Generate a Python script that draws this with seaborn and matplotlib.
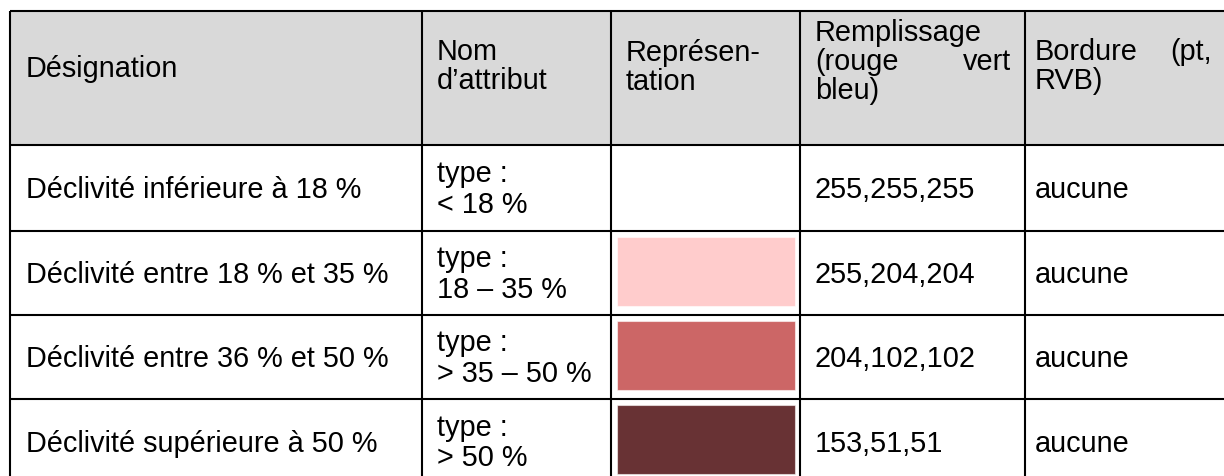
import matplotlib
matplotlib.use("Agg")
import matplotlib.pyplot as plt
import seaborn as sns

# ---- data ----
headers = ["Désignation", "Nom\nd’attribut", "Représen-\ntation",
           "Remplissage\n(rouge vert\nbleu)", "Bordure (pt,\nRVB)"]
designations = ["Déclivité inférieure à 18 %", "Déclivité entre 18 % et 35 %",
                "Déclivité entre 36 % et 50 %", "Déclivité supérieure à 50 %"]
attributes = ["type :\n< 18 %", "type :\n18 – 35 %", "type :\n> 35 – 50 %", "type :\n> 50 %"]
fill_values = ["255,255,255", "255,204,204", "204,102,102", "153,51,51"]
swatch_colors = ["#FFFFFF", "#FFCCCC", "#CC6666", "#683234"]
borders = ["aucune", "aucune", "aucune", "aucune"]

# ---- layout (pixels) ----
W, H = 1224, 476
col_x = [9.5, 422, 611, 800, 1025]          # vertical lines
row_y = [11, 145, 231, 315, 399, 484]       # horizontal lines
text_pad = 15
header_bg = "#D9D9D9"
lw = 1.5
fs = 20.8
LINE_BODY = 31
LINE_HEAD = 29

sns.set_theme(style="white")
plt.rcParams['font.family'] = ['Liberation Sans', 'DejaVu Sans']

fig = plt.figure(figsize=(W / 100, H / 100), dpi=100)
ax = fig.add_axes([0, 0, 1, 1])
ax.set_xlim(0, W)
ax.set_ylim(H, 0)
ax.axis("off")

# header background
ax.fill_between([col_x[0], W], row_y[0], row_y[1], color=header_bg, lw=0, zorder=0)

# swatches (representation column)
sw_left = col_x[2] + 6
sw_w = 178
sw_tops = [row_y[i + 1] + 6 for i in range(len(designations))]
ax.bar([sw_left] * len(designations), [69] * len(designations), width=sw_w,
       bottom=sw_tops, align="edge", color=swatch_colors,
       edgecolor=(1, 1, 1, 0.55), linewidth=0.8, zorder=1)

# grid lines
for y in row_y[:-1]:
    ax.plot([col_x[0], W], [y, y], color="black", lw=lw, solid_capstyle="butt", zorder=3)
for x in col_x:
    ax.plot([x, x], [row_y[0], H + 5], color="black", lw=lw, solid_capstyle="butt", zorder=3)

def put(x, base, s, **kw):
    ax.text(x, base, s, fontsize=fs, color="black", va="baseline", ha=kw.pop("ha", "left"), zorder=4, **kw)

# header texts
put(col_x[0] + text_pad + 1, 77, "Désignation")
put(col_x[1] + text_pad, 60, "Nom")
put(col_x[1] + text_pad, 60 + LINE_HEAD, "d’attribut")
put(col_x[2] + text_pad, 61, "Représen-")
put(col_x[2] + text_pad, 61 + LINE_HEAD, "tation")
put(col_x[3] + text_pad, 41, "Remplissage")
put(col_x[3] + text_pad, 41 + LINE_HEAD, "(rouge")
put(col_x[4] - 14, 41 + LINE_HEAD, "vert", ha="right")
put(col_x[3] + text_pad, 41 + 2 * LINE_HEAD, "bleu)")
put(col_x[4] + 10, 60, "Bordure")
put(1212, 60, "(pt,", ha="right")
put(col_x[4] + 10, 60 + LINE_HEAD, "RVB)")

# body
for i in range(len(designations)):
    top, bot = row_y[i + 1], row_y[i + 2]
    center = (top + bot) / 2
    single = center + 10
    put(col_x[0] + text_pad + 1, single, designations[i])
    l1, l2 = attributes[i].split("\n")
    put(col_x[1] + text_pad, single - 16, l1)
    put(col_x[1] + text_pad, single - 16 + LINE_BODY, l2)
    put(col_x[3] + text_pad, single, fill_values[i])
    put(col_x[4] + 10, single, borders[i])

fig.savefig("out.png", dpi=100, facecolor="white")
